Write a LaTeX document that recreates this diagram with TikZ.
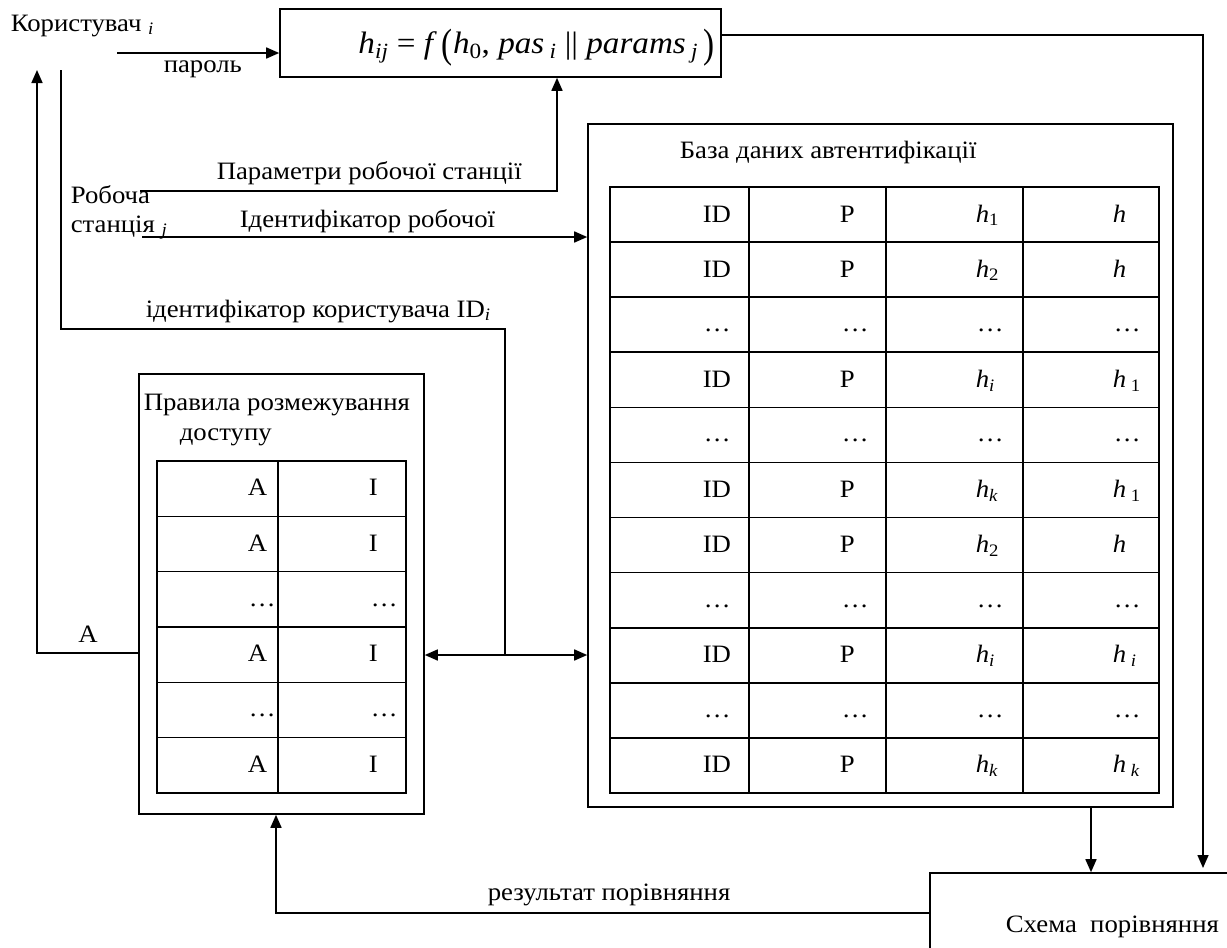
\documentclass[tikz,border=0pt]{standalone}
\usepackage{fontspec}
\setmainfont{Liberation Serif}[FakeStretch=1.07]
\usetikzlibrary{arrows.meta}
\newcommand\fparen[1]{\raisebox{-0.14em}{\scalebox{1}[1.32]{#1}}}
\begin{document}
\begin{tikzpicture}[x=1pt,y=-1pt,
  line width=1.6pt,
  arr/.style={-{Triangle[length=13pt,width=11pt]}},
  darr/.style={{Triangle[length=13pt,width=11pt]}-{Triangle[length=13pt,width=11pt]}},
  box/.style={draw, rectangle, inner sep=0pt, line width=1.6pt},
  txt/.style={inner sep=0pt, font=\fontsize{25}{29}\selectfont},
  ftxt/.style={inner sep=0pt, font=\fontsize{31}{35}\selectfont},
]
\useasboundingbox (0,0) rectangle (1227,948);

% boxes
\node[box, minimum width=441pt, minimum height=68pt] (fbox) at (500.5,43) {};
\node[box, minimum width=585pt, minimum height=683pt] (db) at (880.5,465.5) {};
\node[box, minimum width=285pt, minimum height=440pt] (rules) at (281.5,594) {};
\node[box, minimum width=320pt, minimum height=100pt] (cmp) at (1090,923) {};

% formula
\node[ftxt, anchor=base east] (formula) at (715,53) {\textit{h}\textsubscript{\textit{ij}} = \textit{f}\,\fparen{(}\textit{h}\textsubscript{0}, \textit{pas}\,\textsubscript{\textit{i}} || \textit{params}\,\textsubscript{\textit{j}}\,\fparen{)}};

% user & password
\node[txt, anchor=base west] (user) at (10,31) {Користувач \textsubscript{\textit{i}}};
\node[txt, anchor=base west] (pwlbl) at (163,72) {пароль};
\coordinate (pw0) at (117,53);
\draw[arr] (pw0) -- (pw0 -| fbox.west);

% formula output to comparison
\coordinate (rx) at (1203,35);
\coordinate (rxe) at (1203,868);
\draw[arr] (fbox.east |- rx) -- (rx) -- (rxe);

% workstation
\node[txt, anchor=base west] (ws) at (70,203) {Робоча};
\node[txt, anchor=base west] (ws2) at (70,232) {станція \textsubscript{\textit{j}}};
\coordinate (p0) at (140,191);
\coordinate (px) at (557,0);
\draw[arr] (p0) -- (p0 -| px) -- (px |- fbox.south);
\node[txt, anchor=base west] (lblparam) at (216,179) {Параметри робочої станції};

\coordinate (i0) at (142,237);
\draw[arr] (i0) -- (i0 -| db.west);
\node[txt, anchor=base west] (lblid) at (239,227) {Ідентифікатор робочої};

% user id line
\coordinate (u0) at (61,70);
\coordinate (uc) at (505,329);
\coordinate (bus) at (505,655);
\draw (u0) -- (u0 |- uc) -- (uc) -- (bus);
\draw[darr] (rules.east |- bus) -- (db.west |- bus);
\node[txt, anchor=base west] (lbluid) at (145,317) {ідентифікатор користувача ID\textsubscript{\textit{i}}};

% access back to user
\coordinate (a0) at (37,70);
\coordinate (abend) at (37,653);
\draw[arr] (rules.west |- abend) -- (abend) -- (a0);
\node[txt, anchor=base] (lblA) at (88,642) {A};

% comparison result
\coordinate (rb) at (276,913);
\draw[arr] (cmp.west |- rb) -- (rb) -- (rb |- rules.south);
\node[txt, anchor=base west] (lblres) at (487,900) {результат порівняння};
\node[txt, anchor=base west] (cmplbl) at (1005,932) {Схема\ \ порівняння};

% db to comparison
\coordinate (dx) at (1091,0);
\draw[arr] (db.south -| dx) -- (dx |- cmp.north);

% titles
\node[txt, anchor=base west] (dbt) at (679,158) {База даних автентифікації};
\node[txt, anchor=base west] (rt1) at (143,410) {Правила розмежування};
\node[txt, anchor=base west] (rt2) at (179,440) {доступу};

% DB grid
\draw (610,187) rectangle (1159,793);
\foreach \x in {749,886,1023} \draw (\x,187) -- (\x,793);
\foreach \k in {1,...,10} \draw (610,{187+55.09*\k}) -- (1159,{187+55.09*\k});

\foreach \k/\c/\d in {1/\textit{h}\textsubscript{1}/\textit{h},
                      2/\textit{h}\textsubscript{2}/\textit{h},
                      4/\textit{h}\textsubscript{\textit{i}}/\textit{h}\textsubscript{\ 1},
                      6/\textit{h}\textsubscript{\textit{k}}/\textit{h}\textsubscript{\ 1},
                      7/\textit{h}\textsubscript{2}/\textit{h},
                      9/\textit{h}\textsubscript{\textit{i}}/\textit{h}\textsubscript{\ \textit{i}},
                      11/\textit{h}\textsubscript{\textit{k}}/\textit{h}\textsubscript{\ \textit{k}}}{
  \node[txt, anchor=base west] (dbid\k) at (702,{187+55.09*(\k-0.5)+7.5}) {ID};
  \node[txt, anchor=base west] (dbp\k) at (839,{187+55.09*(\k-0.5)+7.5}) {P};
  \node[txt, anchor=base west] (dbh\k) at (975,{187+55.09*(\k-0.5)+7.5}) {\c};
  \node[txt, anchor=base west] (dbg\k) at (1112,{187+55.09*(\k-0.5)+7.5}) {\d};
}
\foreach \k in {3,5,8,10}{
  \node[txt, anchor=base west] (dbda\k) at (703,{187+55.09*(\k-0.5)+7}) {…};
  \node[txt, anchor=base west] (dbdb\k) at (841,{187+55.09*(\k-0.5)+7}) {…};
  \node[txt, anchor=base west] (dbdc\k) at (976,{187+55.09*(\k-0.5)+7}) {…};
  \node[txt, anchor=base west] (dbdd\k) at (1113,{187+55.09*(\k-0.5)+7}) {…};
}

% rules grid
\draw (157,461) rectangle (406,793);
\draw (278,461) -- (278,793);
\foreach \k in {1,...,5} \draw (157,{461+55.33*\k}) -- (406,{461+55.33*\k});
\foreach \k in {1,2,4,6}{
  \node[txt, anchor=base west] (ra\k) at (247,{461+55.33*(\k-0.5)+7}) {A};
  \node[txt, anchor=base west] (ri\k) at (368,{461+55.33*(\k-0.5)+7}) {I};
}
\foreach \k in {3,5}{
  \node[txt, anchor=base west] (rda\k) at (248,{461+55.33*(\k-0.5)+7}) {…};
  \node[txt, anchor=base west] (rdb\k) at (370,{461+55.33*(\k-0.5)+7}) {…};
}
\end{tikzpicture}
\end{document}
